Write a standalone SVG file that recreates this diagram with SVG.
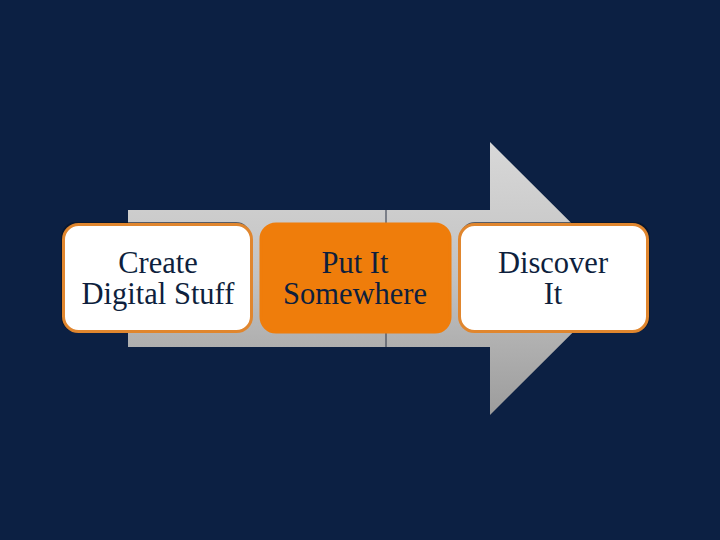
<svg xmlns="http://www.w3.org/2000/svg" width="720" height="540" viewBox="0 0 720 540">
  <defs>
    <linearGradient id="arrowGrad" x1="0" y1="142" x2="0" y2="415" gradientUnits="userSpaceOnUse">
      <stop offset="0" stop-color="#d8d8d8"/>
      <stop offset="0.5" stop-color="#c2c2c2"/>
      <stop offset="1" stop-color="#9c9c9c"/>
    </linearGradient>
  </defs>
  <style>
    .box { stroke: #E0862E; stroke-width: 3; }
    .white { fill: #ffffff; }
    .orange { fill: #EF7D0B; stroke: #EF7D0B; }
    .shadow { fill: #0a1222; opacity: 0.6; }
    .lbl { font-family: "Liberation Serif", "DejaVu Serif", serif; font-size: 30.5px; fill: #0E1F3D; text-anchor: middle; }
  </style>
  <rect x="0" y="0" width="720" height="540" fill="#0C2043"/>
  <g id="arrow">
    <path d="M128,210 L490,210 L490,142 L627,278.5 L490,415 L490,347 L128,347 Z" fill="url(#arrowGrad)"/>
    <line x1="386" y1="210" x2="386" y2="347" stroke="#2a3344" stroke-width="1"/>
  </g>
  <g id="connectors"></g>
  <g id="create">
    <rect class="shadow" x="61" y="222" width="190" height="110" rx="15"/>
    <rect class="box white" x="63.5" y="224.5" width="188" height="107" rx="15"/>
    <text class="lbl" x="158" y="273">Create</text>
    <text class="lbl" x="158" y="304">Digital Stuff</text>
  </g>
  <g id="put">
    <rect class="box orange" x="261" y="224" width="189" height="108" rx="15"/>
    <text class="lbl" x="355" y="273">Put It</text>
    <text class="lbl" x="355" y="304">Somewhere</text>
  </g>
  <g id="discover">
    <rect class="shadow" x="460" y="222" width="190" height="110" rx="15"/>
    <rect class="box white" x="459.5" y="224.5" width="188" height="107" rx="15"/>
    <text class="lbl" x="553" y="273">Discover</text>
    <text class="lbl" x="553" y="304">It</text>
  </g>
</svg>
